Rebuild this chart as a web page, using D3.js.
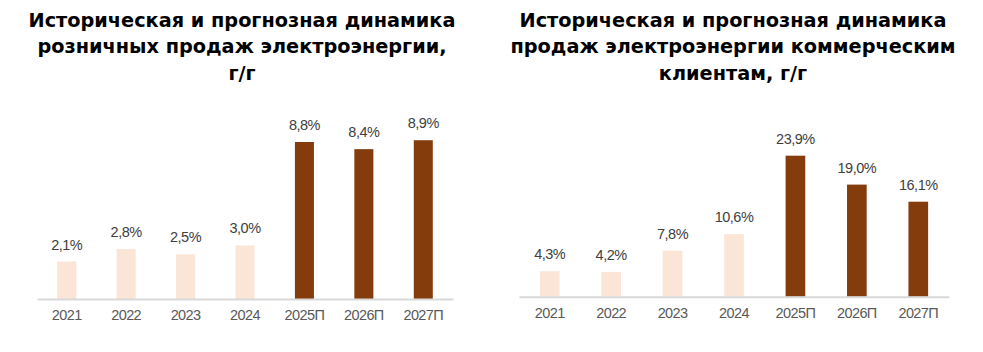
<!DOCTYPE html>
<html>
<head>
<meta charset="utf-8">
<script src="https://cdn.jsdelivr.net/npm/d3@7"></script>
<style>
  body { margin: 0; background: #fff; }
  svg { display: block; }
</style>
</head>
<body>
<script>
// data
var years = ['2021', '2022', '2023', '2024', '2025П', '2026П', '2027П'];
var forecast = [false, false, false, false, true, true, true];
var retailValues = [2.1, 2.8, 2.5, 3.0, 8.8, 8.4, 8.9];
var commercialValues = [4.3, 4.2, 7.8, 10.6, 23.9, 19.0, 16.1];
var retailTitle = ['Историческая и прогнозная динамика', 'розничных продаж электроэнергии,', 'г/г'];
var commercialTitle = ['Историческая и прогнозная динамика', 'продаж электроэнергии коммерческим', 'клиентам, г/г'];

var W = 983, H = 352;
var light = '#fbe5d6', dark = '#843c0c';
var sans = 'Arial, "Liberation Sans", sans-serif';

var svg = d3.select('body').append('svg')
  .attr('width', W)
  .attr('height', H);

function fmt(v) {
  return v.toFixed(1).replace('.', ',') + '%';
}

function panel(cfg) {
  var g = svg.append('g');

  // title
  g.append('text')
    .attr('x', cfg.titleX)
    .attr('y', 26.7)
    .attr('text-anchor', 'middle')
    .style('font-family', 'Verdana, "DejaVu Sans", sans-serif')
    .style('font-weight', 'bold')
    .style('font-size', '19.3px')
    .style('fill', '#000')
    .selectAll('tspan')
    .data(cfg.title)
    .enter()
    .append('tspan')
    .attr('x', cfg.titleX)
    .attr('dy', function(d, i) { return i == 0 ? 0 : 26.7; })
    .text(function(d) { return d; });

  var x = d3.scaleBand()
    .domain(years)
    .range([cfg.x0, cfg.x1])
    .paddingInner(0.68)
    .paddingOuter(0.34);

  var y = d3.scaleLinear()
    .domain([0, cfg.max])
    .range([cfg.base, cfg.top]);

  g.selectAll('rect.bar')
    .data(cfg.values)
    .enter()
    .append('rect')
    .attr('class', 'bar')
    .attr('x', function(d, i) { return x(years[i]); })
    .attr('y', function(d) { return y(d); })
    .attr('width', x.bandwidth())
    .attr('height', function(d) { return cfg.base - y(d); })
    .attr('fill', function(d, i) { return forecast[i] ? dark : light; });

  // axis line
  var axis = g.append('g')
    .attr('transform', 'translate(0,' + cfg.base + ')')
    .call(d3.axisBottom(x).tickSize(0).tickPadding(11));
  axis.select('.domain')
    .attr('stroke', '#d9d9d9')
    .attr('stroke-width', 2);
  axis.selectAll('text')
    .style('font-family', sans)
    .style('font-size', '14.5px')
    .style('letter-spacing', '-0.6px')
    .style('fill', '#595959');

  g.selectAll('text.lbl')
    .data(cfg.values)
    .enter()
    .append('text')
    .attr('class', 'lbl')
    .attr('x', function(d, i) { return x(years[i]) + x.bandwidth() / 2; })
    .attr('y', function(d) { return y(d) - 12; })
    .attr('text-anchor', 'middle')
    .style('font-family', sans)
    .style('font-size', '14.5px')
    .style('letter-spacing', '-0.5px')
    .style('fill', '#404040')
    .text(function(d) { return fmt(d); });
}

panel({
  title: retailTitle, titleX: 242,
  values: retailValues,
  x0: 37, x1: 453, base: 299, top: 120.6, max: 10
});

panel({
  title: commercialTitle, titleX: 733,
  values: commercialValues,
  x0: 519, x1: 949, base: 296.7, top: 119.7, max: 30
});
</script>
</body>
</html>
